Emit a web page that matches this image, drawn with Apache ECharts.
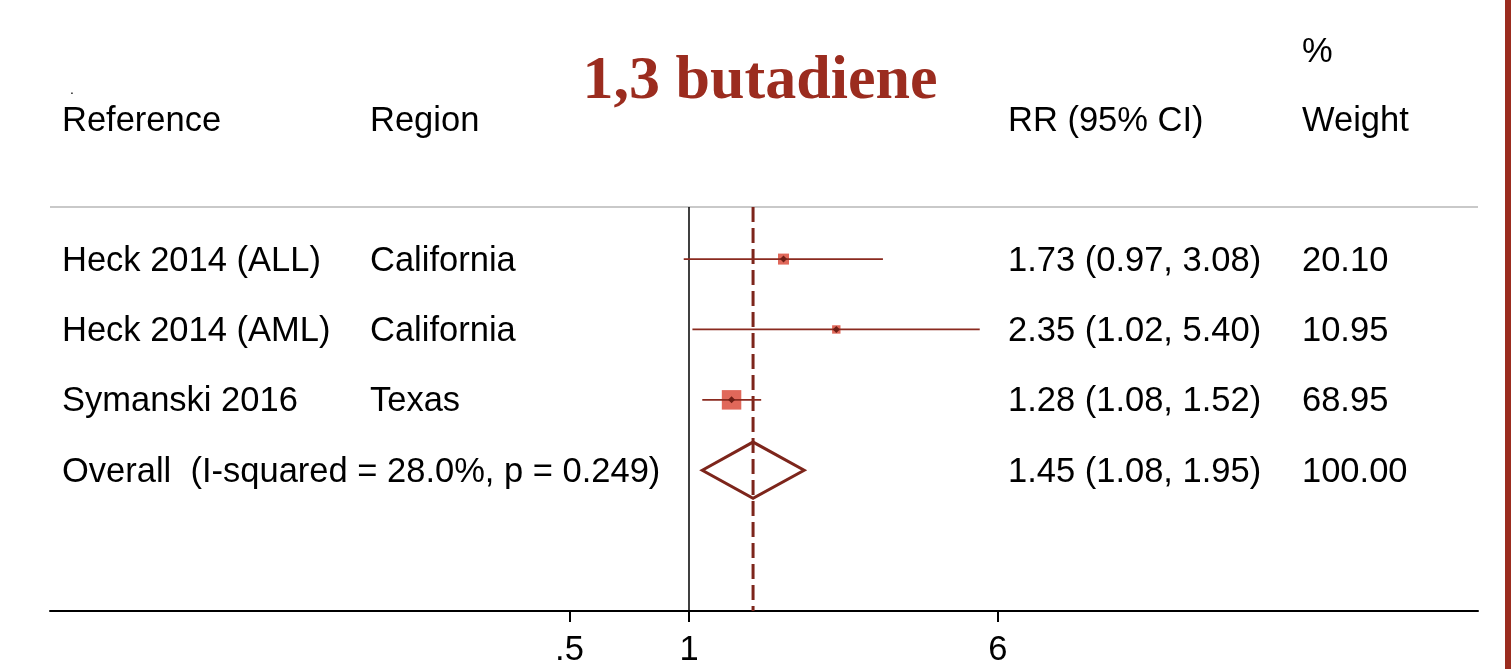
<!DOCTYPE html>
<html>
<head>
<meta charset="utf-8">
<script src="https://cdn.jsdelivr.net/npm/echarts@6/dist/echarts.min.js"></script>
<style>
html,body{margin:0;padding:0;background:#fff;}
#chart{width:1511px;height:669px;}
</style>
</head>
<body>
<div id="chart"></div>
<script>
// ---- data ----
const studies = ['Heck 2014 (ALL)', 'Heck 2014 (AML)', 'Symanski 2016'];
const regions = ['California', 'California', 'Texas'];
const rr = [1.73, 2.35, 1.28];
const lower = [0.97, 1.02, 1.08];
const upper = [3.08, 5.40, 1.52];
const weights = [20.10, 10.95, 68.95];
const overallLabel = 'Overall  (I-squared = 28.0%, p = 0.249)';
const overallRR = 1.45;
const overallLower = 1.08;
const overallUpper = 1.95;
const overallWeight = 100.00;
const tickValues = [0.5, 1, 6];
const tickLabels = ['.5', '1', '6'];
const headers = ['Reference', 'Region', 'RR (95% CI)', '% Weight'];
const titleText = '1,3 butadiene';

// ---- styling ----
const FONT = '"Liberation Sans", Arial, sans-serif';
const FS = 34.5;
const DARK = '#7d251b';
const BOX = '#e0685a';
const COL_X = [62, 370, 1008, 1302];
const TEXT_DY = 2;

const ln = Math.log;
const fmt = v => v.toFixed(2);

const rows = studies.map((s, i) => [ln(rr[i]), i, ln(lower[i]), ln(upper[i]), weights[i]]);
const overallRow = [[ln(overallRR), studies.length, ln(overallLower), ln(overallUpper), overallWeight]];

const textRows = studies.map((s, i) => [i, s, regions[i],
  fmt(rr[i]) + ' (' + fmt(lower[i]) + ', ' + fmt(upper[i]) + ')', fmt(weights[i])]);
textRows.push([studies.length, overallLabel, '',
  fmt(overallRR) + ' (' + fmt(overallLower) + ', ' + fmt(overallUpper) + ')', fmt(overallWeight)]);

const chart = echarts.init(document.getElementById('chart'), null, {renderer: 'canvas'});

function txt(x, y, text, extra) {
  return Object.assign({
    type: 'text',
    style: {text: text, x: x, y: y + TEXT_DY, font: FS + 'px ' + FONT, fill: '#000',
      textAlign: 'left', textVerticalAlign: 'middle'}
  }, extra || {});
}

const option = {
  animation: false,
  backgroundColor: '#fff',
  grid: {left: 50, right: 33, top: 207, bottom: 58, containLabel: false},
  xAxis: {
    type: 'value',
    min: -3.7065, max: 4.5766,
    splitLine: {show: false},
    axisLine: {show: true, onZero: false, lineStyle: {color: '#000', width: 2}},
    axisTick: {show: true, length: 11, lineStyle: {color: '#000', width: 2},
      customValues: tickValues.map(v => ln(v))},
    axisLabel: {
      customValues: tickValues.map(v => ln(v)),
      formatter: function (v) {
        for (let i = 0; i < tickValues.length; i++) {
          if (Math.abs(ln(tickValues[i]) - v) < 1e-6) return tickLabels[i];
        }
        return '';
      },
      fontFamily: FONT, fontSize: FS, color: '#000', margin: 22
    }
  },
  yAxis: {
    type: 'value', inverse: true, min: -0.74, max: 5,
    show: false, splitLine: {show: false}
  },
  graphic: [
    {type: 'rect', shape: {x: 1505, y: 0, width: 6, height: 669}, style: {fill: '#9b2c1f'}},
    {type: 'line', shape: {x1: 50, y1: 207, x2: 1478, y2: 207}, style: {stroke: '#c9c9c9', lineWidth: 2}},
    {type: 'text', style: {text: titleText, x: 760, y: 82, font: 'bold 62px "Liberation Serif", "Times New Roman", serif',
      fill: '#9b2c1f', textAlign: 'center', textVerticalAlign: 'middle'}},
    {type: 'text', style: {text: '.', x: 70, y: 83, font: '14px ' + FONT, fill: '#000'}},
    txt(COL_X[0], 119, headers[0]),
    txt(COL_X[1], 119, headers[1]),
    txt(COL_X[2], 119, headers[2]),
    txt(COL_X[3], 50, headers[3].split(' ')[0]),
    txt(COL_X[3], 119, headers[3].split(' ')[1])
  ],
  series: [
    {
      // null line at RR = 1 and dashed overall line
      type: 'custom',
      data: [[0, overallRow[0][0]]],
      clip: false,
      z: 1,
      renderItem: function (params, api) {
        const top = api.coord([0, -0.74]);
        const bot = api.coord([0, 5]);
        const xOne = api.coord([api.value(0), 0])[0];
        const xOv = api.coord([api.value(1), 0])[0];
        return {type: 'group', children: [
          {type: 'line', shape: {x1: xOne, y1: top[1], x2: xOne, y2: bot[1]},
            style: {stroke: '#000', lineWidth: 1.5}},
          {type: 'line', shape: {x1: xOv, y1: top[1], x2: xOv, y2: bot[1]},
            style: {stroke: DARK, lineWidth: 3, lineDash: [15, 6]}}
        ]};
      }
    },
    {
      // study CIs, weight boxes and point markers
      type: 'custom',
      data: rows,
      z: 3,
      renderItem: function (params, api) {
        const p = api.coord([api.value(0), api.value(1)]);
        const lo = api.coord([api.value(2), api.value(1)]);
        const hi = api.coord([api.value(3), api.value(1)]);
        const s = Math.sqrt(api.value(4)) * 2.22 + 1.05;
        const d = 3.5;
        return {type: 'group', children: [
          {type: 'rect', shape: {x: p[0] - s / 2, y: p[1] - s / 2, width: s, height: s},
            style: {fill: BOX}},
          {type: 'line', shape: {x1: lo[0], y1: lo[1], x2: hi[0], y2: hi[1]},
            style: {stroke: '#8a2a1f', lineWidth: 1.8}},
          {type: 'polygon', shape: {points: [[p[0] - d, p[1]], [p[0], p[1] - d], [p[0] + d, p[1]], [p[0], p[1] + d]]},
            style: {fill: '#6e1f16'}}
        ]};
      }
    },
    {
      // overall diamond
      type: 'custom',
      data: overallRow,
      z: 3,
      renderItem: function (params, api) {
        const y = api.value(1);
        const c = api.coord([api.value(0), y]);
        const t = api.coord([api.value(0), y - 0.4]);
        const b = api.coord([api.value(0), y + 0.4]);
        const lo = api.coord([api.value(2), y]);
        const hi = api.coord([api.value(3), y]);
        return {type: 'polygon',
          shape: {points: [[lo[0], c[1]], [c[0], t[1]], [hi[0], c[1]], [c[0], b[1]]]},
          style: {fill: 'none', stroke: DARK, lineWidth: 3, lineJoin: 'miter'}};
      }
    },
    {
      // table text
      type: 'custom',
      data: textRows,
      clip: false,
      z: 4,
      renderItem: function (params, api) {
        const i = params.dataIndex;
        const r = textRows[i];
        const y = api.coord([0, r[0]])[1];
        const children = [];
        for (let k = 1; k <= 4; k++) {
          if (r[k]) children.push(txt(COL_X[k - 1], y, r[k]));
        }
        return {type: 'group', children: children};
      }
    }
  ]
};
chart.setOption(option);
</script>
</body>
</html>
